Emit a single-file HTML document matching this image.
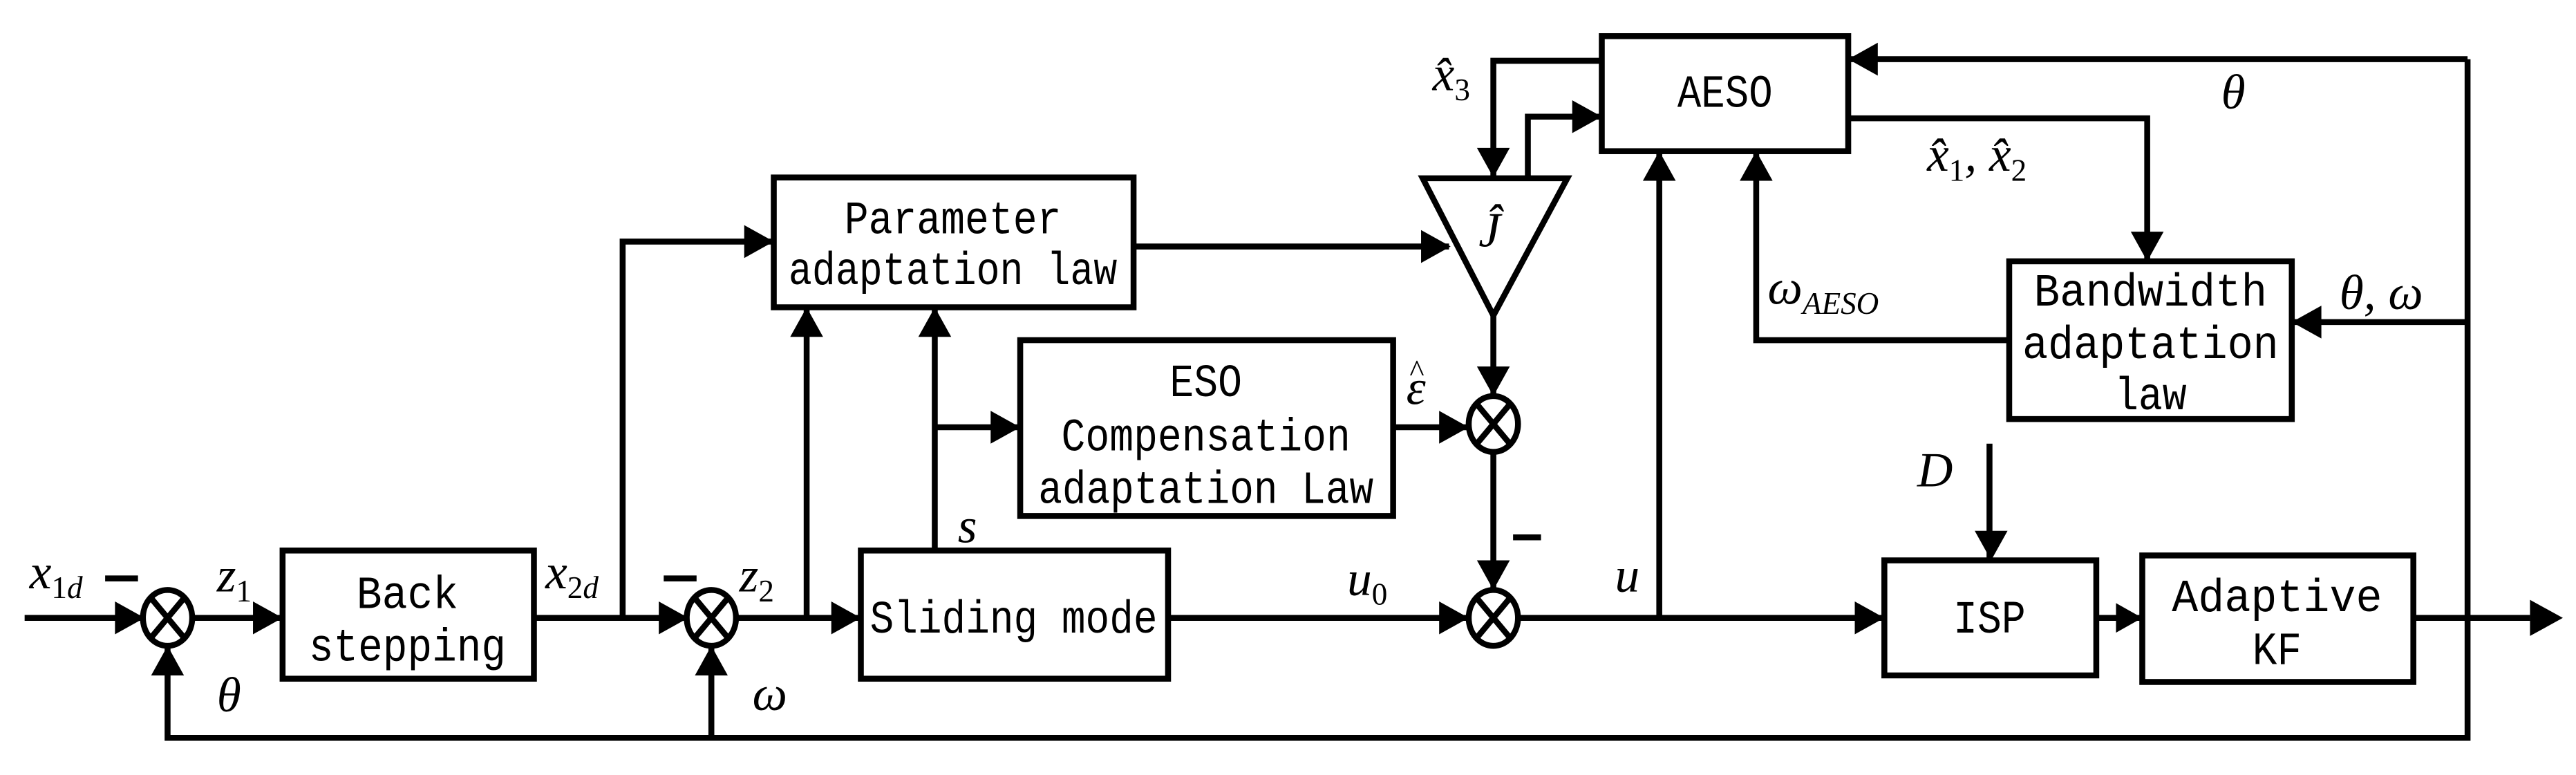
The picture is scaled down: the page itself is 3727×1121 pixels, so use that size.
<!DOCTYPE html>
<html><head><meta charset="utf-8"><style>
html,body{margin:0;padding:0;background:#fff;}
svg{display:block}
.b{font-family:"Liberation Mono",monospace;font-size:28px;font-weight:normal;text-anchor:middle}
.m{font-family:"Liberation Serif",serif;font-style:italic;font-size:30px}
.s{font-family:"Liberation Serif",serif;font-style:normal;font-size:19px}
.si{font-family:"Liberation Serif",serif;font-style:italic;font-size:19px}
</style></head><body>
<svg width="3727" height="1121" viewBox="0 0 1568 471.6" preserveAspectRatio="none" xmlns="http://www.w3.org/2000/svg">
<g fill="none" stroke="#000" stroke-width="3.6" stroke-linejoin="miter">
<rect x="172" y="335" width="153" height="78"/>
<rect x="471" y="108" width="219" height="79"/>
<rect x="524" y="335" width="187" height="78"/>
<rect x="621" y="207" width="227" height="107"/>
<rect x="975" y="22" width="150" height="70"/>
<rect x="1223" y="159" width="172" height="96"/>
<rect x="1147" y="341" width="129" height="70"/>
<rect x="1304" y="338" width="165" height="77"/>
<polygon points="866,108.5 954,108.5 909,192"/>
<ellipse cx="102" cy="376" rx="15" ry="17"/>
<ellipse cx="433" cy="376" rx="15" ry="17"/>
<ellipse cx="909" cy="258" rx="15" ry="17"/>
<ellipse cx="909" cy="376" rx="15" ry="17"/>
<path d="M92,364 L112,388 M112,364 L92,388 M423,364 L443,388 M443,364 L423,388 M899,246 L919,270 M919,246 L899,270 M899,364 L919,388 M919,364 L899,388"/>
<path d="M15,376 H87"/>
<path d="M117,376 H172"/>
<path d="M325,376 H418"/>
<path d="M379,376 V147 H471"/>
<path d="M448,376 H524"/>
<path d="M491,376 V187"/>
<path d="M569,335 V187"/>
<path d="M569,260 H621"/>
<path d="M711,376 H894"/>
<path d="M924,376 H1147"/>
<path d="M1010,376 V92"/>
<path d="M690,150 H882"/>
<path d="M909,192 V241"/>
<path d="M848,260 H894"/>
<path d="M909,275 V359"/>
<path d="M975,37 H909 V108"/>
<path d="M930,108 V71 H975"/>
<path d="M1125,72 H1307 V159"/>
<path d="M1223,207 H1069 V92"/>
<path d="M1502,36 H1125"/>
<path d="M1502,36 V449 H102 V393"/>
<path d="M433,449 V393"/>
<path d="M1502,196 H1395"/>
<path d="M1211,270 V341"/>
<path d="M1276,376 H1304"/>
<path d="M1469,376 H1540"/>
<path d="M64,352 H84 M404,352 H424 M921,327 H938"/>
</g>
<g fill="#000" stroke="none">
<polygon points="88,376 70,366 70,386"/>
<polygon points="172,376 154,366 154,386"/>
<polygon points="419,376 401,366 401,386"/>
<polygon points="471,147 453,137 453,157"/>
<polygon points="524,376 506,366 506,386"/>
<polygon points="621,260 603,250 603,270"/>
<polygon points="894,376 876,366 876,386"/>
<polygon points="894,260 876,250 876,270"/>
<polygon points="883,150 865,140 865,160"/>
<polygon points="975,71 957,61 957,81"/>
<polygon points="1147,376 1129,366 1129,386"/>
<polygon points="1304,376 1288,367 1288,385"/>
<polygon points="1560,376 1540,365 1540,387"/>
<polygon points="1125,36 1143,26 1143,46"/>
<polygon points="1395,196 1413,186 1413,206"/>
<polygon points="102,393 92,411 112,411"/>
<polygon points="433,393 423,411 443,411"/>
<polygon points="491,187 481,205 501,205"/>
<polygon points="569,187 559,205 579,205"/>
<polygon points="1010,92 1000,110 1020,110"/>
<polygon points="1069,92 1059,110 1079,110"/>
<polygon points="909,108 899,90 919,90"/>
<polygon points="909,241 899,223 919,223"/>
<polygon points="909,359 899,341 919,341"/>
<polygon points="1307,159 1297,141 1317,141"/>
<polygon points="1212,341 1202,323 1222,323"/>
</g>
<g class="b">
<text x="248" y="370" textLength="62" lengthAdjust="spacingAndGlyphs">Back</text>
<text x="248" y="402" textLength="120" lengthAdjust="spacingAndGlyphs">stepping</text>
<text x="580" y="142" textLength="132" lengthAdjust="spacingAndGlyphs">Parameter</text>
<text x="580" y="173" textLength="200" lengthAdjust="spacingAndGlyphs">adaptation law</text>
<text x="734" y="241" textLength="44" lengthAdjust="spacingAndGlyphs">ESO</text>
<text x="734" y="274" textLength="176" lengthAdjust="spacingAndGlyphs">Compensation</text>
<text x="734" y="306" textLength="204" lengthAdjust="spacingAndGlyphs">adaptation Law</text>
<text x="617" y="385" textLength="175" lengthAdjust="spacingAndGlyphs">Sliding mode</text>
<text x="1050" y="65" textLength="58" lengthAdjust="spacingAndGlyphs">AESO</text>
<text x="1309" y="186" textLength="142" lengthAdjust="spacingAndGlyphs">Bandwidth</text>
<text x="1309" y="218" textLength="156" lengthAdjust="spacingAndGlyphs">adaptation</text>
<text x="1309" y="249" textLength="44" lengthAdjust="spacingAndGlyphs">law</text>
<text x="1211" y="385" textLength="44" lengthAdjust="spacingAndGlyphs">ISP</text>
<text x="1386" y="372" textLength="128" lengthAdjust="spacingAndGlyphs">Adaptive</text>
<text x="1386" y="404" textLength="30" lengthAdjust="spacingAndGlyphs">KF</text>
</g>
<text class="m" x="18" y="358">x<tspan class="s" dy="6">1</tspan><tspan class="si">d</tspan></text>
<text class="m" x="132" y="360">z<tspan class="s" dy="6">1</tspan></text>
<text class="m" x="332" y="358">x<tspan class="s" dy="6">2</tspan><tspan class="si">d</tspan></text>
<text class="m" x="450" y="360">z<tspan class="s" dy="6">2</tspan></text>
<text class="m" x="132" y="433">θ</text>
<text class="m" x="458" y="432">ω</text>
<text class="m" x="583" y="330">s</text>
<text class="m" x="820" y="362">u<tspan class="s" dy="6">0</tspan></text>
<text class="m" x="983" y="360">u</text>
<text class="m" x="1167" y="296">D</text>
<text class="m" x="856" y="246">ε</text>
<text class="s" x="858" y="232">^</text>
<text class="m" x="872" y="55">x̂<tspan class="s" dy="6">3</tspan></text>
<text class="m" x="1173" y="104">x̂<tspan class="s" dy="6">1</tspan><tspan dy="-6">, x̂</tspan><tspan class="s" dy="6">2</tspan></text>
<text class="m" x="1076" y="185">ω<tspan class="si" dy="6">AESO</tspan></text>
<text class="m" x="1352" y="66">θ</text>
<text class="m" x="1424" y="188">θ, ω</text>
<text class="m" x="900" y="150">Ĵ</text>
</svg>
</body></html>
